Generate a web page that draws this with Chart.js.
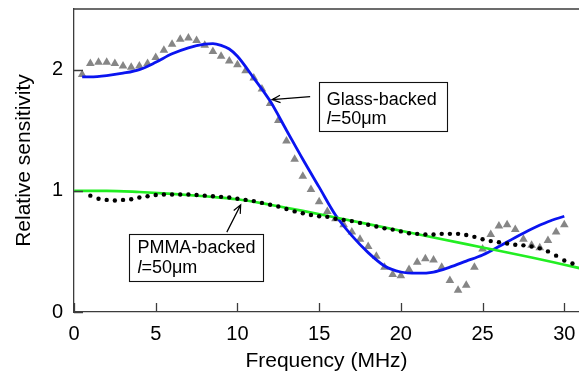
<!DOCTYPE html>
<html>
<head>
<meta charset="utf-8">
<script src="https://cdn.jsdelivr.net/npm/chart.js@4.4.1/dist/chart.umd.min.js"></script>
<style>
    html, body { margin: 0; padding: 0; background: #fff; }
    #chart { display: block; }
</style>
</head>
<body>
<canvas id="chart" width="579" height="374"></canvas>
<script>
const triFreq = [0.5, 1, 1.5, 2, 2.5, 3, 3.5, 4, 4.5, 5, 5.5, 6, 6.5, 7, 7.5, 8, 8.5, 9, 9.5, 10,
    10.5, 11, 11.5, 12, 12.5, 13, 13.5, 14, 14.5, 15, 15.5, 16, 16.5, 17, 17.5, 18, 18.5, 19, 19.5, 20,
    20.5, 21, 21.5, 22, 22.5, 23, 23.5, 24, 24.5, 25, 25.5, 26, 26.5, 27, 27.5, 28, 28.5, 29, 29.5, 30];
const triVals = [1.96, 2.05, 2.06, 2.06, 2.05, 2.03, 2.02, 2.03, 2.05, 2.10, 2.16, 2.21, 2.25, 2.26, 2.24, 2.20, 2.15, 2.11, 2.07, 2.04,
    1.99, 1.93, 1.84, 1.72, 1.58, 1.41, 1.26, 1.12, 1.01, 0.91, 0.83, 0.77, 0.72, 0.66, 0.60, 0.54, 0.46, 0.37, 0.31, 0.30,
    0.35, 0.41, 0.44, 0.43, 0.37, 0.26, 0.18, 0.22, 0.37, 0.52, 0.64, 0.71, 0.72, 0.68, 0.60, 0.55, 0.53, 0.59, 0.66, 0.72];

// glass-backed model (blue)
const blueFreq = [0.5, 1, 2, 3, 4, 5, 6, 7, 8, 8.5, 9, 9.5, 10, 11, 12, 13, 14, 15, 16, 17, 18, 19, 20, 21, 22, 23, 24, 25, 26, 27, 28, 29, 30];
const blueVals = [1.94, 1.94, 1.95, 1.97, 2.00, 2.06, 2.13, 2.18, 2.21, 2.215, 2.20, 2.17, 2.11, 1.93, 1.74, 1.50, 1.26, 1.03, 0.80, 0.63, 0.49, 0.38, 0.33, 0.32, 0.33, 0.37, 0.42, 0.47, 0.54, 0.615, 0.685, 0.745, 0.79];

// PMMA-backed model (green)
const greenFreq = [0, 2, 4, 6, 8, 10, 12, 14, 16, 18, 20, 22, 24, 26, 28, 30, 31];
const greenVals = [1.00, 1.00, 0.99, 0.975, 0.955, 0.93, 0.885, 0.835, 0.78, 0.725, 0.67, 0.615, 0.56, 0.505, 0.45, 0.39, 0.36];

// PMMA-backed measurement (black dots)
const dotFreq = [1, 1.5, 2, 2.5, 3, 3.5, 4, 4.5, 5, 5.5, 6, 6.5, 7, 7.5, 8, 8.5, 9, 9.5, 10, 10.5,
    11, 11.5, 12, 12.5, 13, 13.5, 14, 14.5, 15, 15.5, 16, 16.5, 17, 17.5, 18, 18.5, 19, 19.5, 20, 20.5,
    21, 21.5, 22, 22.5, 23, 23.5, 24, 24.5, 25, 25.5, 26, 26.5, 27, 27.5, 28, 28.5, 29, 29.5, 30, 30.5];
const dotVals = [0.96, 0.935, 0.925, 0.92, 0.925, 0.93, 0.945, 0.955, 0.965, 0.97, 0.97, 0.97, 0.97, 0.965, 0.96, 0.955, 0.95, 0.945, 0.935, 0.925,
    0.915, 0.90, 0.885, 0.87, 0.85, 0.83, 0.815, 0.80, 0.79, 0.785, 0.77, 0.76, 0.75, 0.735, 0.72, 0.705, 0.69, 0.68, 0.665, 0.65,
    0.645, 0.64, 0.64, 0.645, 0.645, 0.645, 0.635, 0.62, 0.60, 0.585, 0.575, 0.565, 0.555, 0.55, 0.54, 0.525, 0.50, 0.465, 0.425, 0.40];

const xTicks = [0, 5, 10, 15, 20, 25, 30];
const yTicks = [0, 1, 2];

const FONT = "'Liberation Sans', Arial, Helvetica, sans-serif";
const axisColor = '#3c3c3c';

function pts(xs, ys) {
    return xs.map((x, i) => ({ x: x, y: ys[i] }));
}

// callout boxes, positions in data units
const notes = [
    { text: 'Glass-backed', box: [15.0, 1.90, 22.84, 1.495], pad: 7.5, base1: 23.5, gap: 19, tail: [14.45, 1.777], tip: [12.12, 1.752] },
    { text: 'PMMA-backed', box: [3.37, 0.645, 11.57, 0.259], pad: 8.3, base1: 19, gap: 20, tail: [9.35, 0.659], tip: [10.2, 0.884] }
];

function arrow(ctx, x0, y0, x1, y1) {
    const a = Math.atan2(y1 - y0, x1 - x0);
    const len = 9, spread = 0.42;
    ctx.beginPath();
    ctx.moveTo(x0, y0);
    ctx.lineTo(x1, y1);
    ctx.moveTo(x1 - len * Math.cos(a - spread), y1 - len * Math.sin(a - spread));
    ctx.lineTo(x1, y1);
    ctx.lineTo(x1 - len * Math.cos(a + spread), y1 - len * Math.sin(a + spread));
    ctx.stroke();
}

const frame = {
    id: 'frame',
    afterDatasetsDraw(chart) {
        const { ctx, chartArea: a, scales: { x, y } } = chart;
        ctx.save();

        // top line + inward ticks
        ctx.strokeStyle = axisColor;
        ctx.lineWidth = 1.3;
        ctx.beginPath();
        ctx.moveTo(a.left, a.top);
        ctx.lineTo(a.right, a.top);
        x.ticks.forEach(t => {
            const px = Math.round(x.getPixelForValue(t.value)) + 0.5;
            ctx.moveTo(px, a.bottom);
            ctx.lineTo(px, a.bottom - 9);
        });
        y.ticks.forEach(t => {
            const py = Math.round(y.getPixelForValue(t.value)) + 0.5;
            ctx.moveTo(a.left, py);
            ctx.lineTo(a.left + 9, py);
        });
        ctx.stroke();

        // callouts
        notes.forEach(n => {
            const bx0 = x.getPixelForValue(n.box[0]);
            const by0 = y.getPixelForValue(n.box[1]);
            const bx1 = x.getPixelForValue(n.box[2]);
            const by1 = y.getPixelForValue(n.box[3]);
            ctx.fillStyle = '#fff';
            ctx.fillRect(bx0, by0, bx1 - bx0, by1 - by0);
            ctx.strokeStyle = '#111';
            ctx.lineWidth = 1.1;
            ctx.strokeRect(Math.round(bx0) + 0.5, Math.round(by0) + 0.5, Math.round(bx1 - bx0), Math.round(by1 - by0));

            ctx.fillStyle = '#000';
            ctx.textBaseline = 'alphabetic';
            ctx.textAlign = 'left';
            const tx = bx0 + n.pad;
            const ty = by0 + n.base1;
            ctx.font = '18px ' + FONT;
            ctx.fillText(n.text, tx, ty);
            ctx.font = 'italic 18px ' + FONT;
            ctx.fillText('l', tx, ty + n.gap);
            const w = ctx.measureText('l').width;
            ctx.font = '18px ' + FONT;
            ctx.fillText('=50μm', tx + w, ty + n.gap);

            ctx.strokeStyle = '#000';
            ctx.lineWidth = 1.2;
            arrow(ctx, x.getPixelForValue(n.tail[0]), y.getPixelForValue(n.tail[1]),
                x.getPixelForValue(n.tip[0]), y.getPixelForValue(n.tip[1]));
        });
        ctx.restore();
    }
};

Chart.defaults.font.family = FONT;
Chart.defaults.color = '#000';

new Chart(document.getElementById('chart'), {
    type: 'scatter',
    data: {
        datasets: [
            {
                label: 'PMMA measured',
                data: pts(dotFreq, dotVals),
                pointRadius: 2.2,
                pointBackgroundColor: '#000',
                pointBorderWidth: 0,
                showLine: false,
                order: 1
            },
            {
                label: 'PMMA model',
                data: pts(greenFreq, greenVals),
                showLine: true,
                borderColor: '#22ee22',
                borderWidth: 2.7,
                pointRadius: 0,
                cubicInterpolationMode: 'monotone',
                order: 2
            },
            {
                label: 'Glass model',
                data: pts(blueFreq, blueVals),
                showLine: true,
                borderColor: '#0a14f0',
                borderWidth: 2.8,
                pointRadius: 0,
                cubicInterpolationMode: 'monotone',
                order: 3
            },
            {
                label: 'Glass measured',
                data: pts(triFreq, triVals),
                pointStyle: 'triangle',
                pointRadius: 5,
                pointBackgroundColor: '#868686',
                pointBorderWidth: 0,
                showLine: false,
                order: 4
            }
        ]
    },
    options: {
        responsive: false,
        animation: false,
        devicePixelRatio: 1,
        layout: { autoPadding: false, padding: { top: 9, right: 0, left: 0, bottom: 0 } },
        plugins: {
            legend: { display: false },
            tooltip: { enabled: false }
        },
        scales: {
            x: {
                type: 'linear',
                min: 0,
                max: 30.9,
                afterFit: s => { s.height = 62; s.paddingLeft = 0; s.paddingRight = 0; },
                afterBuildTicks: s => { s.ticks = xTicks.map(v => ({ value: v })); },
                grid: { drawOnChartArea: false, drawTicks: false },
                border: { color: axisColor, width: 1.3 },
                ticks: { font: { size: 20 }, padding: 10, maxRotation: 0 },
                title: { display: true, text: 'Frequency (MHz)', font: { size: 21 }, padding: { top: 0, bottom: 0.5 } }
            },
            y: {
                type: 'linear',
                min: 0,
                max: 2.5,
                afterFit: s => { s.width = 74; s.paddingTop = 0; s.paddingBottom = 0; },
                afterBuildTicks: s => { s.ticks = yTicks.map(v => ({ value: v })); },
                grid: { drawOnChartArea: false, drawTicks: false },
                border: { color: axisColor, width: 1.3 },
                ticks: { font: { size: 20 }, padding: 11 },
                title: { display: true, text: 'Relative sensitivity', font: { size: 21 }, padding: { top: 12, bottom: 0 } }
            }
        }
    },
    plugins: [frame]
});
</script>
</body>
</html>
